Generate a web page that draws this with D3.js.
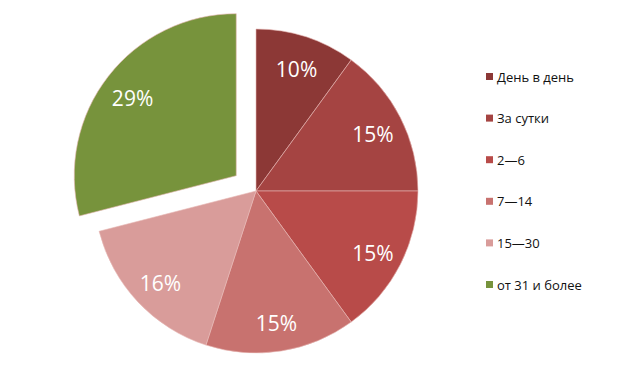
<!DOCTYPE html>
<meta charset="utf-8">
<script src="https://d3js.org/d3.v7.min.js"></script>
<style>
  body { margin: 0; background: #fff; }
</style>
<div id="chart"></div>
<script>
// data
const categories = ["День в день", "За сутки", "2—6", "7—14", "15—30", "от 31 и более"];
const shares = [10, 15, 15, 15, 16, 29];
const colors = ["#8c3836", "#a54442", "#b84b49", "#c8726f", "#d99c9a", "#77933c"];

const width = 628, height = 367;
const cx = 256, cy = 191, radius = 162;

const svg = d3.select("#chart").append("svg")
  .attr("width", width)
  .attr("height", height);

const pie = d3.pie().sort(null).value(d => d);
const arcs = pie(shares);
const arc = d3.arc().innerRadius(0).outerRadius(radius);
const labelArc = d3.arc().innerRadius(radius * 0.81).outerRadius(radius * 0.81);

// last slice pulled out
const explode = (d, i) => {
  if (i !== shares.length - 1) return [0, 0];
  const a = (d.startAngle + d.endAngle) / 2;
  return [Math.sin(a) * 25, -Math.cos(a) * 25];
};

const g = svg.append("g").attr("transform", `translate(${cx},${cy})`);

const slices = g.selectAll("g.slice")
  .data(arcs)
  .join("g")
  .attr("class", "slice")
  .attr("transform", (d, i) => `translate(${explode(d, i)})`);

slices.append("path")
  .attr("d", arc)
  .attr("fill", (d, i) => colors[i])
  .attr("stroke", "#e8b8b6")
  .attr("stroke-width", 0.6);

slices.append("text")
  .attr("transform", d => {
    const [x, y] = labelArc.centroid(d);
    return `translate(${x},${y + 3})`;
  })
  .attr("text-anchor", "middle")
  .attr("dy", "0.35em")
  .attr("fill", "#fff")
  .style("font-family", "'Open Sans', 'Noto Sans', sans-serif")
  .style("font-size", "21px")
  .text(d => d.data + "%");

// legend
const legend = svg.append("g").attr("transform", "translate(486,77)");
const item = legend.selectAll("g")
  .data(categories)
  .join("g")
  .attr("transform", (d, i) => `translate(0,${i * 41.6})`);

item.append("rect")
  .attr("x", 0).attr("y", -4)
  .attr("width", 7).attr("height", 7)
  .attr("fill", (d, i) => colors[i]);

item.append("text")
  .attr("x", 11)
  .attr("dy", "0.35em")
  .attr("fill", "#111")
  .style("font-family", "'Open Sans', 'Noto Sans', sans-serif")
  .style("font-size", "13px")
  .text(d => d);
</script>
